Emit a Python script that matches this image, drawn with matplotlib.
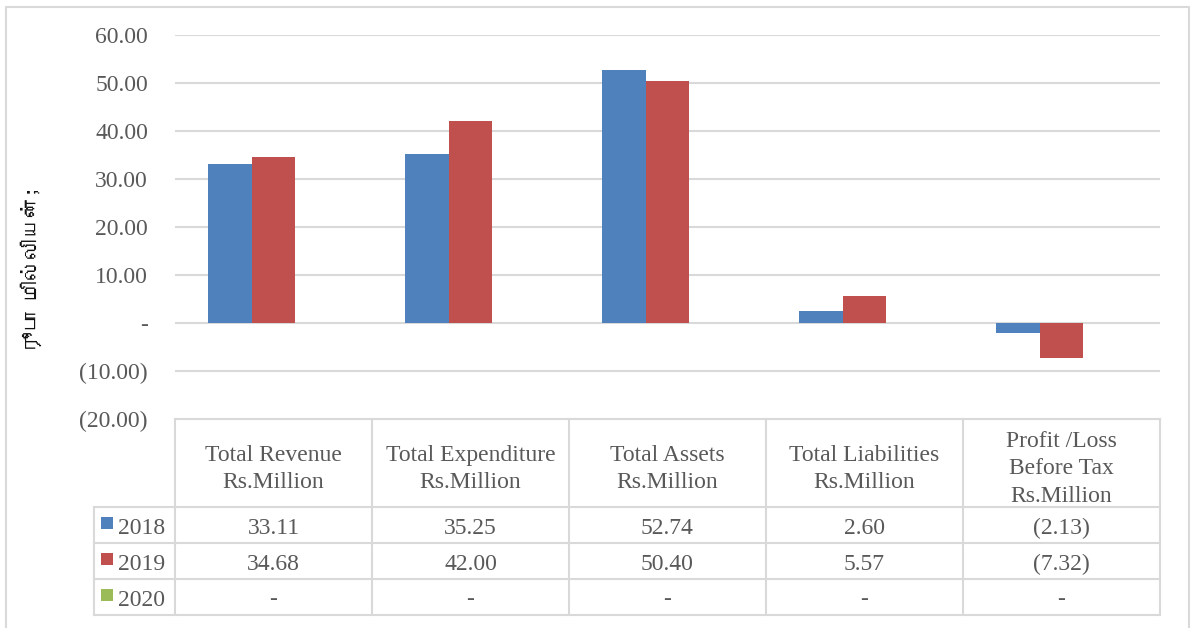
import matplotlib
matplotlib.use("Agg")
import matplotlib.pyplot as plt
from matplotlib import font_manager
from matplotlib.patches import Rectangle
import numpy as np

categories = ["Total Revenue\nRs.Million", "Total Expenditure\nRs.Million", "Total Assets\nRs.Million",
              "Total Liabilities\nRs.Million", "Profit /Loss\nBefore Tax\nRs.Million"]
series_names = ["2018", "2019", "2020"]
values_2018 = [33.11, 35.25, 52.74, 2.60, -2.13]
values_2019 = [34.68, 42.00, 50.40, 5.57, -7.32]
values_2020 = [None, None, None, None, None]
table_2018 = ["33.11", "35.25", "52.74", "2.60", "(2.13)"]
table_2019 = ["34.68", "42.00", "50.40", "5.57", "(7.32)"]
table_2020 = ["-", "-", "-", "-", "-"]
yticks = [-20, -10, 0, 10, 20, 30, 40, 50, 60]
ytick_labels = ["(20.00)", "(10.00)", "-", "10.00", "20.00", "30.00", "40.00", "50.00", "60.00"]
ylabel = "ரூபா மில்லியன்;"
colors = ["#4F81BD", "#C0504D", "#9BBB59"]
text_color = "#595959"
grid_color = "#D9D9D9"

# find a font with Tamil glyphs, if any
tamil_family = None
try:
    from fontTools.ttLib import TTFont
    for fe in font_manager.fontManager.ttflist:
        try:
            f = TTFont(fe.fname, fontNumber=0, lazy=True)
            cmap = f.getBestCmap()
            if cmap and 0x0BB0 in cmap:
                tamil_family = fe.name
                break
        except Exception:
            pass
except Exception:
    pass

serif = "Liberation Serif"
FS = 17
W, H = 1192, 628
fig = plt.figure(figsize=(W / 100, H / 100), dpi=100)

def fx(px):
    return px / W

def fy(py):
    return 1 - py / H

ax_left, ax_right, ax_top, ax_bottom = 175, 1160, 35, 419
ax = fig.add_axes([fx(ax_left), fy(ax_bottom), fx(ax_right) - fx(ax_left), fy(ax_top) - fy(ax_bottom)])

x = np.arange(len(categories))
bw = 0.223
series = [values_2018, values_2019, values_2020]
for i, vals in enumerate(series):
    v = [np.nan if a is None else a for a in vals]
    ax.bar(x + (i - 1) * bw, v, width=bw, color=colors[i], edgecolor="none", zorder=3)

ax.set_xlim(-0.5, len(categories) - 0.5)
ax.set_ylim(-20, 60)
ax.set_yticks(yticks)
ax.set_yticklabels(ytick_labels, fontfamily=serif, fontsize=FS, color=text_color)
ax.tick_params(axis="y", length=0, pad=19.5)
ax.set_xticks([])
for sp in ax.spines.values():
    sp.set_visible(False)
for yv in yticks[1:]:
    ax.axhline(yv, color=grid_color, lw=1.5, zorder=1)

# y label
fam = [tamil_family, "DejaVu Sans"] if tamil_family else ["DejaVu Sans"]
fig.text(fx(31), fy(270), ylabel, rotation=90, ha="center", va="center",
         fontsize=15, color="#111111", family=fam)

# table
trans = fig.transFigure
col_edges = [175, 372, 569, 766, 963, 1160]
left_col = 94
row_lines = [419, 507, 543, 579, 615]
lw = 1.5

def hline(y, x0, x1):
    fig.add_artist(plt.Line2D([fx(x0), fx(x1)], [fy(y), fy(y)], transform=trans, color=grid_color, lw=lw))

def vline(x_, y0, y1):
    fig.add_artist(plt.Line2D([fx(x_), fx(x_)], [fy(y0), fy(y1)], transform=trans, color=grid_color, lw=lw))

hline(419, 175, 1160)
for y in row_lines[1:]:
    hline(y, left_col, 1160)
for c in col_edges:
    vline(c, 419, 615)
vline(left_col, 507, 615)

# header texts
for j, cat in enumerate(categories):
    cx = (col_edges[j] + col_edges[j + 1]) / 2
    cy = (row_lines[0] + row_lines[1]) / 2
    fig.text(fx(cx), fy(cy + 6), cat, ha="center", va="center", fontfamily=serif,
             fontsize=FS, color=text_color, linespacing=1.38)

table_rows = [table_2018, table_2019, table_2020]
for r, row in enumerate(table_rows):
    cy = (row_lines[r + 1] + row_lines[r + 2]) / 2
    # legend key
    fig.add_artist(Rectangle((fx(101), fy(cy + 4)), fx(12), fy(0) - fy(12), transform=trans,
                             facecolor=colors[r], edgecolor="none"))
    fig.text(fx(118), fy(cy + 3), series_names[r], ha="left", va="center", fontfamily=serif,
             fontsize=FS, color=text_color)
    for j, val in enumerate(row):
        cx = (col_edges[j] + col_edges[j + 1]) / 2
        fig.text(fx(cx), fy(cy + 3), val, ha="center", va="center", fontfamily=serif,
                 fontsize=FS, color=text_color)

# outer chart border
fig.add_artist(plt.Line2D([fx(6), fx(6), fx(1189), fx(1189)], [fy(640), fy(7), fy(7), fy(640)],
                          transform=trans, color=grid_color, lw=1.5))

fig.savefig("out.png", dpi=100, facecolor="white")
